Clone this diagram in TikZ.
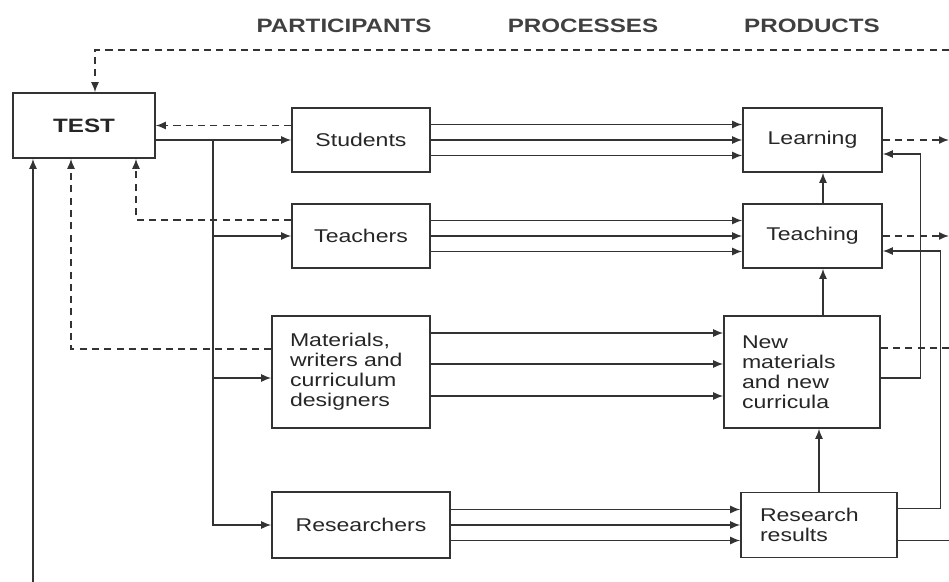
\documentclass[tikz,border=0pt]{standalone}
\usepackage{fontspec}
\setmainfont{Liberation Sans}[FakeStretch=1.25]
\usetikzlibrary{arrows.meta}

\begin{document}
\begin{tikzpicture}[
  box/.style={draw=black!80, line width=0.9pt, inner sep=0pt, text=black!85, font=\fontsize{10.5}{11.3}\selectfont},
  link/.style={draw=black!80, line width=0.8pt, -{Latex[length=2mm,width=1.6mm]}},
  back/.style={link, dash pattern=on 4pt off 3pt},
  head/.style={text=black!75, font=\fontsize{11}{13}\selectfont\bfseries}
]
\useasboundingbox (0,0) rectangle (18.98,-11.64);

%Headings
\node[head] (hpart) at (6.88,-0.52) {PARTICIPANTS};
\node[head] (hproc) at (11.66,-0.52) {PROCESSES};
\node[head] (hprod) at (16.24,-0.52) {PRODUCTS};

%Test
\node[box, minimum width=2.84cm, minimum height=1.3cm, font=\fontsize{11}{13}\selectfont\bfseries] (test) at (1.68,-2.51) {TEST};

%Participants
\node[box, minimum width=2.76cm, minimum height=1.28cm] (stu) at (7.22,-2.8) {Students};
\node[box, minimum width=2.76cm, minimum height=1.28cm] (tea) at (7.22,-4.72) {Teachers};
\node[box, minimum width=3.16cm, minimum height=2.24cm, text width=2.44cm, align=left] (mat) at (7.02,-7.44) {Materials,\\ writers and\\ curriculum\\ designers};
\node[box, minimum width=3.56cm, minimum height=1.32cm] (res) at (7.22,-10.5) {Researchers};

%Products
\node[box, minimum width=2.78cm, minimum height=1.28cm] (learn) at (16.25,-2.8) {Learning};
\node[box, minimum width=2.78cm, minimum height=1.28cm] (teach) at (16.25,-4.72) {Teaching};
\node[box, minimum width=3.12cm, minimum height=2.24cm, text width=2.4cm, align=left] (newm) at (16.04,-7.44) {New\\ materials\\ and new\\ curricula};
\node[box, minimum width=3.12cm, minimum height=1.3cm, text width=2.36cm, align=left] (rr) at (16.38,-10.5) {Research\\ results};

%Loose ends at the edges
\coordinate (rim) at (18.98,0);
\coordinate (topr) at (18.98,-1.0);
\coordinate (low) at (0.66,-11.64);
\coordinate (split) at (4.26,-2.8);

%Processes
\foreach \dy in {0.31,0,-0.31} {
  \draw[link] ([yshift=\dy cm]stu.east) -- ([yshift=\dy cm]learn.west);
  \draw[link] ([yshift=\dy cm]tea.east) -- ([yshift=\dy cm]teach.west);
  \draw[link] ([yshift=\dy cm]res.east) -- ([yshift=\dy cm]rr.west);
}
\foreach \dy in {0.78,0.16,-0.48}
  \draw[link] ([yshift=\dy cm]mat.east) -- ([yshift=\dy cm]newm.west);

%Test to participants
\draw[link] (test.east |- stu.west) -- (stu.west);
\draw[link] (split) |- (tea.west);
\draw[link] (split) |- ([yshift=-0.12cm]mat.west);
\draw[link] (split) |- (res.west);

%Back to the test
\draw[back] (stu.west |- test.east) -- (test.east);
\draw[back] ([yshift=0.32cm]tea.west) -| ([xshift=1.04cm]test.south);
\draw[back] ([yshift=0.46cm]mat.west) -| ([xshift=-0.26cm]test.south);
\draw[link] (low) -- (low |- test.south);
\draw[back] (topr) -| ([xshift=0.22cm]test.north);

%Between products
\draw[link] ([xshift=0.21cm]teach.north) -- ([xshift=0.21cm]learn.south);
\draw[link] ([xshift=0.21cm]teach.south |- newm.north) -- ([xshift=0.21cm]teach.south);
\draw[link] (rr.north) -- (rr.north |- newm.south);
\draw[link] ([yshift=-0.12cm]newm.east) -- ++(0.8,0) |- ([yshift=-0.28cm]learn.east);
\draw[link] ([yshift=0.33cm]rr.east) -- ++(0.86,0) |- ([yshift=-0.3cm]teach.east);

%Out to the right
\draw[back] (learn.east) -- (learn.east -| rim);
\draw[back] (teach.east) -- (teach.east -| rim);
\draw[back, -] ([yshift=0.48cm]newm.east) -- ([yshift=0.48cm]newm.east -| rim);
\draw[link, -] ([yshift=-0.31cm]rr.east) -- ([yshift=-0.31cm]rr.east -| rim);

\end{tikzpicture}
\end{document}
